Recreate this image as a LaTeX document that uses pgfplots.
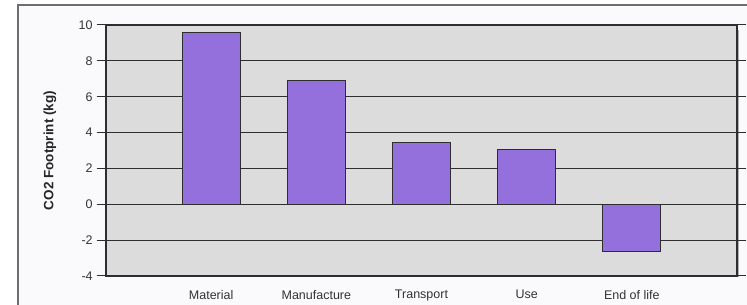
\documentclass[border=0pt]{standalone}
\usepackage{fontspec}
\setmainfont{Liberation Sans}
\usepackage{pgfplots}
\pgfplotsset{compat=1.18}
\definecolor{barfill}{HTML}{9370DB}
\definecolor{plotbg}{HTML}{DCDCDC}
\definecolor{pagebg}{HTML}{FAFAFD}
\definecolor{framec}{HTML}{6E6E6E}
\definecolor{gridc}{HTML}{2E2E2E}
\begin{document}
\fontsize{12.5}{14}\selectfont
\begin{tikzpicture}[x=1pt,y=1pt]
\useasboundingbox (0,0) rectangle (747,305);
\fill[white] (0,0) rectangle (747,305);
\fill[pagebg] (18,0) rectangle (747,300);
\draw[framec,line width=1.5pt] (18,-2) -- (18,300) -- (749,300);
\fill[gray!60] (107,28) rectangle (739,275);
\begin{axis}[
  at={(106pt,29pt)}, anchor=south west,
  scale only axis, width=631pt, height=251pt,
  xmin=-1, xmax=5, ymin=-4, ymax=10,
  ytick={-4,-2,0,2,4,6,8,10},
  xtick={0,1,2,3,4},
  xticklabels={Material,Manufacture,Transport,Use,End of life},
  major x tick style={draw=none},
  tick align=outside,
  major tick length=9pt,
  y tick style={gridc, line width=1pt},
  ymajorgrids,
  grid style={gridc, line width=1pt},
  axis line style={gridc, line width=1.1pt},
  axis background/.style={fill=plotbg},
  /pgf/number format/assume math mode=true,
  tick label style={font=\fontsize{12.5}{14}\selectfont, text=black!80},
  xticklabel style={yshift=-1pt},
  every axis y label/.style={at={(axis description cs:0,0.5)}, rotate=90, anchor=center},
  ylabel style={at={([xshift=-56pt]axis description cs:0,0.5)}, font=\fontsize{13.5}{15}\selectfont\bfseries, text=black!85},
  ylabel={CO2 Footprint (kg)},
  ybar, bar width=58pt, bar shift=0pt,
]
\addplot[draw=gridc, fill=barfill, line width=1pt] coordinates {(0,9.6) (1,6.93) (2,3.42) (3,3.03) (4,-2.66)};
\end{axis}
\end{tikzpicture}
\end{document}
